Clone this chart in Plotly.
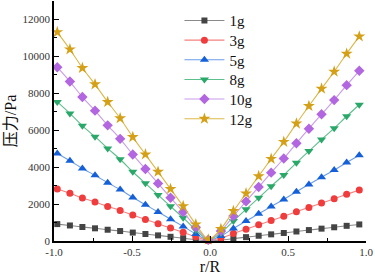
import plotly.graph_objects as go

r = [-0.979, -0.898, -0.818, -0.737, -0.656, -0.576, -0.495, -0.414, -0.333,
     -0.253, -0.172, -0.091, -0.011, 0.070, 0.150, 0.231, 0.312, 0.392,
     0.473, 0.554, 0.634, 0.715, 0.796, 0.876, 0.957]

p1 = [916, 841, 759, 687, 610, 539, 456, 380, 304, 228, 153, 73, 6,
      53, 131, 209, 285, 360, 435, 515, 592, 669, 743, 822, 897]
p3 = [2817, 2585, 2333, 2113, 1875, 1656, 1402, 1168, 934, 702, 471, 224, 20,
      162, 404, 642, 875, 1108, 1337, 1584, 1821, 2055, 2284, 2526, 2759]
p5 = [4740, 4349, 3926, 3556, 3155, 2786, 2359, 1965, 1571, 1182, 792, 377, 34,
      272, 679, 1080, 1472, 1865, 2250, 2666, 3064, 3458, 3843, 4251, 4643]
p8 = [7535, 6913, 6240, 5652, 5015, 4428, 3750, 3124, 2498, 1878, 1259, 600, 53,
      432, 1080, 1716, 2340, 2964, 3576, 4237, 4870, 5497, 6109, 6757, 7379]
p10 = [9413, 8636, 7796, 7061, 6265, 5532, 4684, 3902, 3120, 2346, 1572, 749, 67,
       540, 1349, 2144, 2923, 3702, 4468, 5293, 6084, 6866, 7631, 8441, 9219]
p12 = [11314, 10380, 9370, 8487, 7530, 6649, 5630, 4690, 3750, 2820, 1890, 900, 80,
       649, 1621, 2577, 3513, 4450, 5370, 6362, 7313, 8253, 9172, 10145, 11080]

names = ["1g", "3g", "5g", "8g", "10g", "12g"]
series = [p1, p3, p5, p8, p10, p12]
x_ticks = [-1.0, -0.5, 0.0, 0.5, 1.0]
x_ticktext = ["-1.0", "-0.5", "0.0", "0.5", "1.0"]
y_ticks = [0, 2000, 4000, 6000, 8000, 10000, 12000]

marker_colors = ["#444444", "#f03c3c", "#1560d8", "#2aa86a", "#b266e0", "#d4a017"]
line_colors = ["#8a8a8a", "#f58080", "#6b9de8", "#5cbf8c", "#c99bea", "#dcb84a"]
symbols = ["square", "circle", "triangle-up", "triangle-down", "diamond", "star"]
sizes = [6, 7, 8, 8, 8, 9]

serif = "Liberation Serif, Times New Roman, Noto Sans CJK SC, serif"

# plot area: top 1px, bottom 241px (height 240)
legend_centers_px = [20.7, 40.4, 60.0, 79.7, 99.3, 119.0]

fig = go.Figure()
layout_legends = {}
for i, (n, y, mc, lc, s, sz) in enumerate(zip(names, series, marker_colors, line_colors, symbols, sizes)):
    lname = "legend" if i == 0 else f"legend{i+1}"
    fig.add_trace(go.Scatter(
        x=r, y=y, name=n, mode="lines+markers",
        line=dict(color=lc, width=1.1, shape="spline", smoothing=0.6),
        marker=dict(color=mc, symbol=s, size=sz, line=dict(width=0)),
        cliponaxis=False, legend=lname,
    ))
    layout_legends[lname] = dict(
        x=0.402, y=(241 - legend_centers_px[i]) / 240, xanchor="left", yanchor="middle",
        bgcolor="rgba(0,0,0,0)", font=dict(size=15, color="#111111", family=serif),
        itemwidth=40,
    )

fig.update_layout(
    width=375, height=280,
    margin=dict(l=54, r=9, t=1, b=39, autoexpand=False),
    paper_bgcolor="white", plot_bgcolor="white",
    font=dict(family=serif, color="#333333"),
    showlegend=True,
    xaxis=dict(range=[-1.0, 1.0], tickvals=x_ticks, ticktext=x_ticktext,
               showline=True, linecolor="black", linewidth=1.5, automargin=False,
               ticks="inside", ticklen=5, tickcolor="black", tickwidth=1,
               minor=dict(ticks="inside", ticklen=3, dtick=0.25, tickcolor="black"),
               showgrid=False, zeroline=False,
               tickfont=dict(size=11, color="#333333", family=serif),
               title=dict(text="r/R", font=dict(size=16, color="#111111", family=serif), standoff=0)),
    yaxis=dict(range=[0, 13000], tickvals=y_ticks, tickformat="d",
               showline=True, linecolor="black", linewidth=1.5, automargin=False,
               ticks="inside", ticklen=5, tickcolor="black", tickwidth=1,
               minor=dict(ticks="inside", ticklen=3, dtick=1000, tickcolor="black"),
               showgrid=False, zeroline=False,
               tickfont=dict(size=11, color="#333333", family=serif),
               title=dict(text="压力/Pa", font=dict(size=16, color="#111111", family=serif), standoff=2)),
    **layout_legends,
)

fig.write_html("out.html", config={"displayModeBar": False},
               post_script="document.body.style.margin='0';")
